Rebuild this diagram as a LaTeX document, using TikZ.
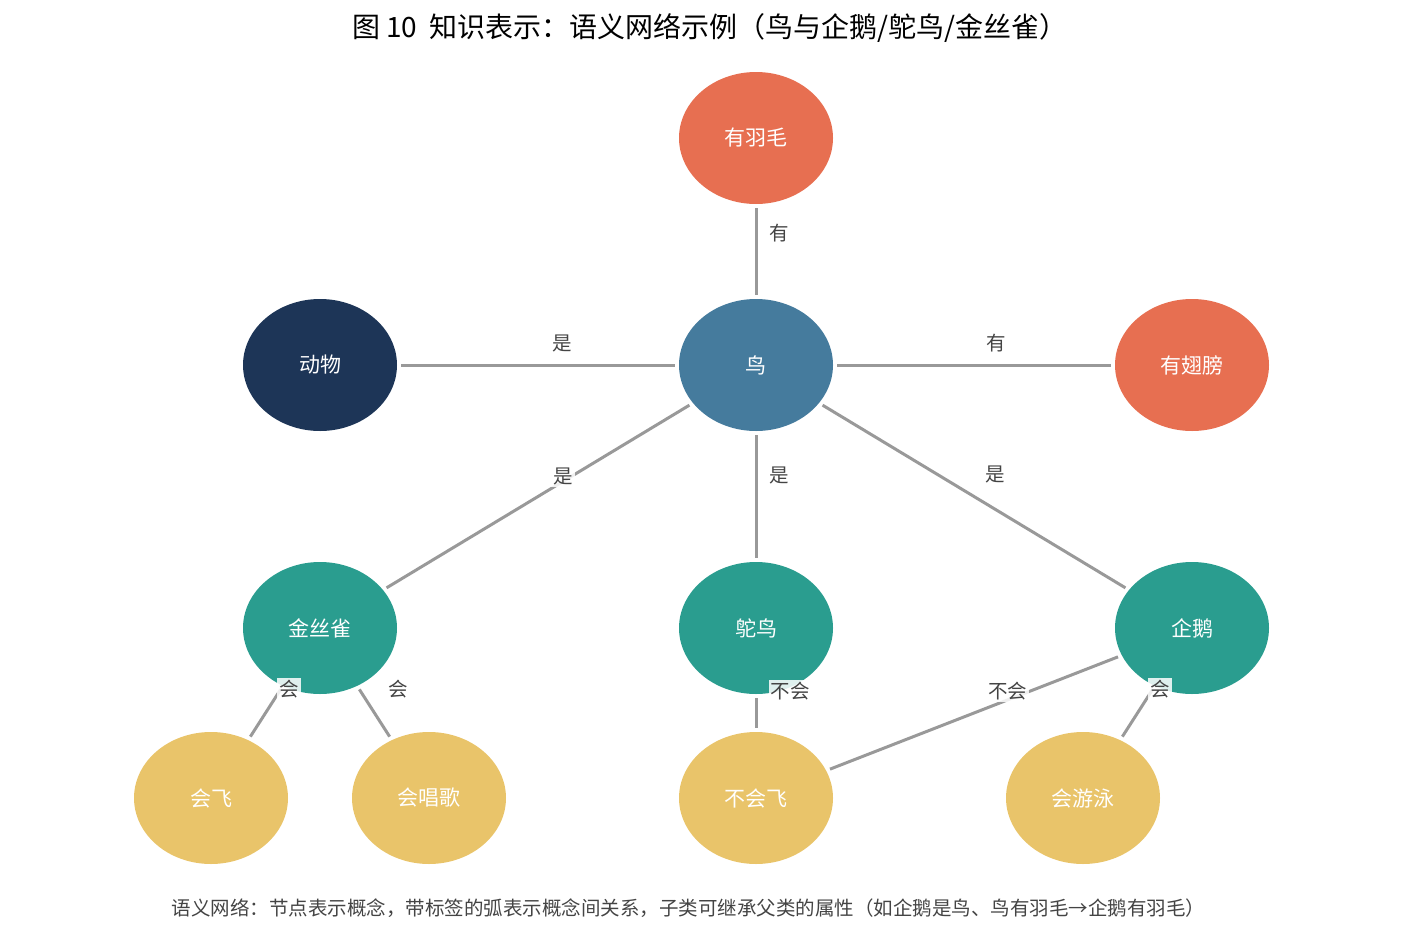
\documentclass[tikz,border=0pt]{standalone}
\usepackage{fontspec}
\setmainfont{Noto Sans CJK SC}
\usetikzlibrary{shapes.geometric}
\definecolor{corange}{HTML}{E76F51}
\definecolor{cbird}{HTML}{457B9D}
\definecolor{canimal}{HTML}{1D3557}
\definecolor{cclass}{HTML}{2A9D8F}
\definecolor{cprop}{HTML}{E9C46A}
\definecolor{cedge}{HTML}{999999}
\definecolor{ctext}{HTML}{444444}
\begin{document}
\begin{tikzpicture}[x=1pt,y=-1pt,
  concept/.style={ellipse,minimum width=154pt,minimum height=132pt,inner sep=0pt,text=white,font=\fontsize{21}{25}\selectfont},
  rel/.style={draw=cedge,line width=3pt,shorten <=4pt,shorten >=4pt},
  lbl/.style={fill=white,fill opacity=0.85,text opacity=1,text=ctext,inner sep=2pt,font=\fontsize{19.5}{23}\selectfont}]
\useasboundingbox (0,0) rectangle (1425,945);

\node[concept,fill=corange] (feather) at (756,138) {有羽毛};
\node[concept,fill=cbird] (bird) at (756,365) {鸟};
\node[concept,fill=canimal] (animal) at (320,365) {动物};
\node[concept,fill=corange] (wing) at (1192,365) {有翅膀};
\node[concept,fill=cclass] (canary) at (320,628) {金丝雀};
\node[concept,fill=cclass] (ostrich) at (756,628) {鸵鸟};
\node[concept,fill=cclass] (penguin) at (1192,628) {企鹅};
\node[concept,fill=cprop] (fly) at (211,798) {会飞};
\node[concept,fill=cprop] (sing) at (429,798) {会唱歌};
\node[concept,fill=cprop] (nofly) at (756,798) {不会飞};
\node[concept,fill=cprop] (swim) at (1083,798) {会游泳};

\path[rel] (feather) -- node[lbl,pos=0.3,right=10pt] {有} (bird);
\path[rel] (animal) -- node[lbl,pos=0.585,above=9pt] {是} (bird);
\path[rel] (bird) -- node[lbl,pos=0.58,above=9pt] {有} (wing);
\path[rel] (bird) -- node[lbl,pos=0.42,yshift=5pt] {是} (canary);
\path[rel] (bird) -- node[lbl,pos=0.34,right=10pt] {是} (ostrich);
\path[rel] (bird) -- node[lbl,pos=0.57,yshift=35pt] {是} (penguin);
\path[rel] (canary) -- node[lbl,pos=0.05,xshift=8pt] {会} (fly);
\path[rel] (canary) -- node[lbl,pos=0.05,xshift=39pt] {会} (sing);
\path[rel] (ostrich) -- node[lbl,pos=0,right=11pt,yshift=3pt] {不会} (nofly);
\path[rel] (penguin) -- node[lbl,pos=0.385,yshift=9pt] {不会} (nofly);
\path[rel] (penguin) -- node[lbl,pos=0.05,xshift=7pt] {会} (swim);

\node[text=black,font=\fontsize{28}{32}\selectfont] (title) at (710,28) {图 10\ \ 知识表示：语义网络示例（鸟与企鹅/鸵鸟/金丝雀）};
\node[anchor=west,text=ctext,font=\fontsize{19.5}{23}\selectfont] (caption) at (168,908) {语义网络：节点表示概念，带标签的弧表示概念间关系，子类可继承父类的属性（如企鹅是鸟、鸟有羽毛→企鹅有羽毛）};
\end{tikzpicture}
\end{document}
